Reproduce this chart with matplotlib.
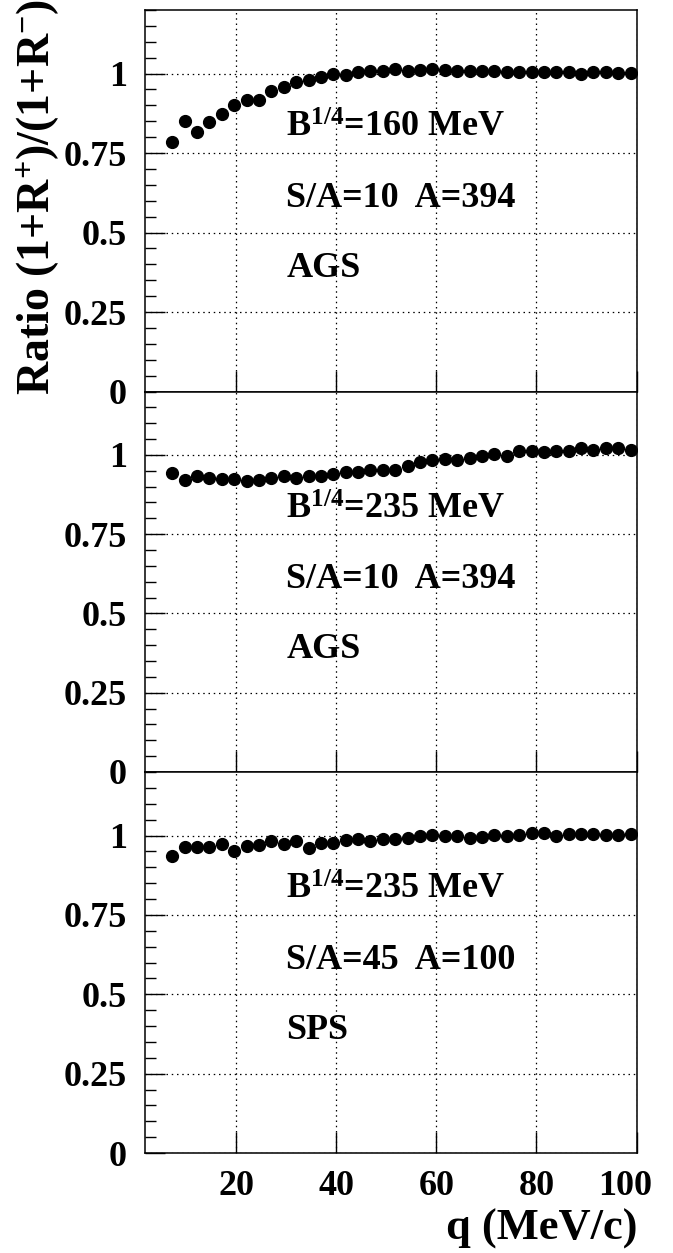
import matplotlib
matplotlib.use("Agg")
import matplotlib.pyplot as plt
import matplotlib.transforms as mtransforms
from matplotlib.ticker import MultipleLocator, FixedLocator

plt.rcParams["font.family"] = ["Liberation Serif", "DejaVu Serif"]
plt.rcParams["font.weight"] = "bold"
plt.rcParams["mathtext.default"] = "regular"

# bin centres in q (MeV/c)
q = [7.25, 9.72, 12.2, 14.68, 17.15, 19.62, 22.1, 24.57, 27.05, 29.53,
     32.0, 34.47, 36.95, 39.43, 41.9, 44.38, 46.85, 49.33, 51.8, 54.28,
     56.75, 59.22, 61.7, 64.18, 66.65, 69.12, 71.6, 74.08, 76.55, 79.03,
     81.5, 83.98, 86.45, 88.93, 91.4, 93.88, 96.35, 98.83]

# B^1/4 = 160 MeV, S/A=10, A=394 (AGS)
ratio_160_ags = [0.784, 0.852, 0.817, 0.849, 0.873, 0.901, 0.916, 0.918, 0.945, 0.958,
                 0.973, 0.979, 0.990, 0.998, 0.996, 1.006, 1.008, 1.008, 1.013, 1.008,
                 1.011, 1.015, 1.011, 1.008, 1.008, 1.008, 1.008, 1.006, 1.004, 1.004,
                 1.004, 1.006, 1.004, 1.000, 1.004, 1.004, 1.002, 1.002]

# B^1/4 = 235 MeV, S/A=10, A=394 (AGS)
ratio_235_ags = [0.943, 0.920, 0.935, 0.926, 0.924, 0.924, 0.917, 0.922, 0.926, 0.932,
                 0.926, 0.935, 0.935, 0.941, 0.947, 0.945, 0.951, 0.951, 0.951, 0.966,
                 0.977, 0.983, 0.987, 0.985, 0.989, 0.998, 1.002, 0.996, 1.011, 1.011,
                 1.008, 1.013, 1.013, 1.021, 1.015, 1.023, 1.021, 1.017]

# B^1/4 = 235 MeV, S/A=45, A=100 (SPS)
ratio_235_sps = [0.934, 0.965, 0.963, 0.965, 0.972, 0.950, 0.967, 0.969, 0.982, 0.974,
                 0.982, 0.961, 0.976, 0.976, 0.986, 0.988, 0.982, 0.988, 0.988, 0.991,
                 0.997, 1.003, 0.997, 0.997, 0.993, 0.995, 1.001, 0.999, 1.003, 1.007,
                 1.007, 0.999, 1.005, 1.005, 1.005, 1.001, 1.003, 1.005]

panels = [
    (ratio_160_ags, ["B$^{1/4}$=160 MeV", "S/A=10  A=394", "AGS"]),
    (ratio_235_ags, ["B$^{1/4}$=235 MeV", "S/A=10  A=394", "AGS"]),
    (ratio_235_sps, ["B$^{1/4}$=235 MeV", "S/A=45  A=100", "SPS"]),
]
yticks = [0, 0.25, 0.5, 0.75, 1]
ytick_labels = ["0", "0.25", "0.5", "0.75", "1"]
xticks = [20, 40, 60, 80, 100]

W, H = 673, 1253
fig = plt.figure(figsize=(W / 100, H / 100), dpi=100)

left, right = 145, 636.5
edges = [10, 391.5, 772, 1153]

axes = []
for i, (vals, labels) in enumerate(panels):
    top, bot = edges[i], edges[i + 1]
    ax = fig.add_axes([left / W, 1 - bot / H, (right - left) / W, (bot - top) / H])
    ax.plot(q, vals, "o", color="black", ms=8.5, mec="black", zorder=3)
    ax.set_xlim(1.8, 100)
    ax.set_ylim(0, 1.2)

    ax.yaxis.set_major_locator(FixedLocator(yticks))
    ax.set_yticklabels(ytick_labels)
    ax.yaxis.set_minor_locator(MultipleLocator(0.05))
    ax.xaxis.set_major_locator(FixedLocator(xticks))

    ax.tick_params(axis="both", which="both", direction="in", top=False, right=False,
                   width=1.0, colors="black")
    ax.tick_params(axis="y", which="major", length=14.5, pad=13, labelsize=26)
    ax.tick_params(axis="y", which="minor", length=8)
    ax.tick_params(axis="x", which="major", length=15, pad=12, labelsize=26)
    ax.grid(True, which="major", color="black", linestyle=(0, (1.2, 3.0)), linewidth=0.9)
    for s in ax.spines.values():
        s.set_linewidth(1.1)

    if i < 2:
        ax.tick_params(axis="x", labelbottom=False)

    for txt, yy in zip(labels, [0.8, 0.58, 0.36]):
        ax.text(30, yy, txt, fontsize=26, fontweight="bold", ha="left", va="baseline")
    axes.append(ax)

# shift the "100" label a little left, as in the reference
bottom_ax = axes[-1]
for lab in bottom_ax.get_xticklabels():
    if lab.get_text() == "100":
        lab.set_transform(lab.get_transform() +
                          mtransforms.ScaledTranslation(-11 / 100, 0, fig.dpi_scale_trans))

fig.text(38 / W, 1 - 197 / H, "Ratio (1+R$^{+}$)/(1+R$^{-}$)", rotation=90,
         fontsize=33, fontweight="bold", ha="center", va="center")
fig.text(637 / W, 1 - 1240 / H, "q (MeV/c)", fontsize=32, fontweight="bold",
         ha="right", va="baseline")

fig.savefig("out.png", dpi=100)
